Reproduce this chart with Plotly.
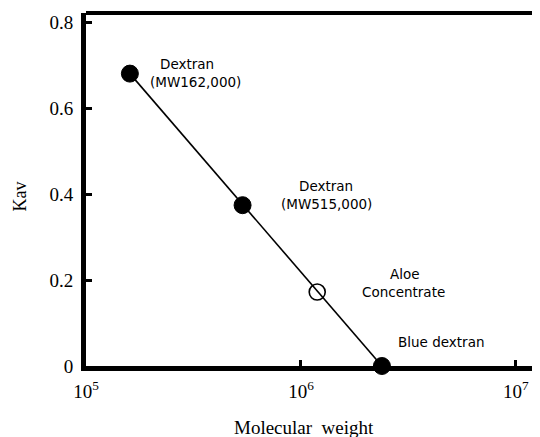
import math
import plotly.graph_objects as go

# Data
names = ["Dextran (MW162,000)", "Dextran (MW515,000)", "Aloe Concentrate", "Blue dextran"]
mol_weight = [1.60e5, 5.35e5, 1.19e6, 2.38e6]
kav = [0.680, 0.374, 0.172, 0.0]
filled = [True, True, False, True]

# point labels, one entry per text line (x in molecular weight, y in Kav)
label_text = ["Dextran", "(MW162,000)", "Dextran", "(MW515,000)", "Aloe", "Concentrate", "Blue dextran"]
label_x = [2.95e5, 3.22e5, 1.31e6, 1.31e6, 3.05e6, 3.0e6, 4.48e6]
label_y = [0.702, 0.660, 0.419, 0.377, 0.213, 0.172, 0.056]

y_ticks = [0, 0.2, 0.4, 0.6, 0.8]
y_ticktext = ["0", "0.2", "0.4", "0.6", "0.8"]
x_ticks = [1e5, 1e6, 1e7]
x_ticktext = ["10<sup>5</sup>", "10<sup>6</sup>", "10<sup>7</sup>"]

SERIF = "Liberation Serif"
SANS = "DejaVu Sans"

fig = go.Figure()

# regression line from first to last standard
fig.add_trace(go.Scatter(
    x=[mol_weight[0], mol_weight[-1]], y=[kav[0], kav[-1]],
    mode="lines", line=dict(color="black", width=1.6),
    showlegend=False, hoverinfo="skip"))

fx = [m for m, f in zip(mol_weight, filled) if f]
fy = [k for k, f in zip(kav, filled) if f]
ox = [m for m, f in zip(mol_weight, filled) if not f]
oy = [k for k, f in zip(kav, filled) if not f]

fig.add_trace(go.Scatter(
    x=fx, y=fy, mode="markers",
    marker=dict(size=17, color="black", line=dict(color="black", width=1)),
    showlegend=False, cliponaxis=False))
fig.add_trace(go.Scatter(
    x=ox, y=oy, mode="markers",
    marker=dict(size=16, color="black", symbol="circle-open",
                line=dict(color="black", width=1.6)),
    showlegend=False, cliponaxis=False))

for t, lx, ly in zip(label_text, label_x, label_y):
    fig.add_annotation(x=math.log10(lx), y=ly, xref="x", yref="y", text=t,
                       showarrow=False, xanchor="center", yanchor="middle",
                       font=dict(family=SANS, size=13.5, color="black"))

fig.add_annotation(x=-0.173, y=0.48, xref="paper", yref="paper", text="Kav",
                   textangle=-90, showarrow=False, xanchor="left", yanchor="middle",
                   font=dict(family=SERIF, size=18, color="black"))
fig.add_annotation(x=0.483, y=-0.173, xref="paper", yref="paper",
                   text="Molecular  weight", showarrow=False,
                   xanchor="center", yanchor="middle",
                   font=dict(family=SERIF, size=19, color="black"))

# thin right border
fig.add_shape(type="line", xref="paper", yref="paper", x0=1, x1=1, y0=0, y1=1,
              line=dict(color="black", width=1.2))
# thick top border
fig.add_shape(type="line", xref="paper", yref="paper", x0=0, x1=1, y0=1, y1=1,
              line=dict(color="black", width=4))

tick_font = dict(family=SERIF, size=19, color="black")

fig.update_layout(
    width=532, height=429, margin=dict(l=78, r=3, t=5, b=71),
    font=dict(family=SERIF, color="black", size=19),
    paper_bgcolor="white", plot_bgcolor="white", showlegend=False,
    xaxis=dict(type="log", range=[5, 7.098], tickvals=x_ticks, ticktext=x_ticktext,
               showgrid=False, zeroline=False, showline=True, linecolor="black",
               linewidth=5, ticks="inside", ticklen=6, tickwidth=3, tickcolor="black",
               ticklabelstandoff=4, automargin=False,
               tickfont=tick_font),
    yaxis=dict(range=[0, 0.821], tickvals=y_ticks, ticktext=y_ticktext,
               showgrid=False, zeroline=False, showline=True, linecolor="black",
               linewidth=5, ticks="inside", ticklen=6, tickwidth=3, tickcolor="black",
               ticklabelstandoff=4, automargin=False,
               tickfont=tick_font),
)

fig.write_html("out.html")
